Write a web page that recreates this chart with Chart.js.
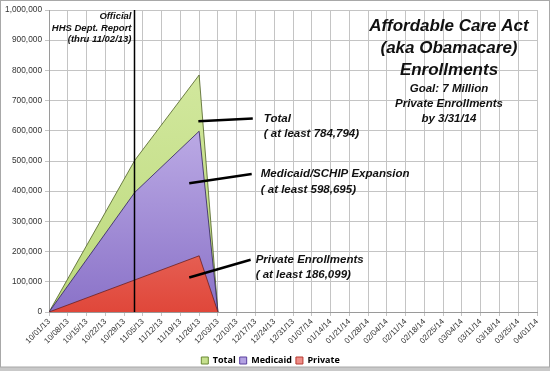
<!DOCTYPE html>
<html>
<head>
<meta charset="utf-8">
<script src="https://cdn.jsdelivr.net/npm/chart.js@4.4.1/dist/chart.umd.min.js"></script>
<style>
  html, body { margin: 0; padding: 0; background: #fff; }
  #wrap { position: relative; width: 550px; height: 371px; }
</style>
</head>
<body>
<div id="wrap"><canvas id="c" width="550" height="371"></canvas></div>
<script>
// ---- Data (x = days since 10/01/13) ----
const weekLabels = ["10/01/13","10/08/13","10/15/13","10/22/13","10/29/13","11/05/13","11/12/13","11/19/13","11/26/13","12/03/13","12/10/13","12/17/13","12/24/13","12/31/13","01/07/14","01/14/14","01/21/14","01/28/14","02/04/14","02/11/14","02/18/14","02/25/14","03/04/14","03/11/14","03/18/14","03/25/14","04/01/14"];
const dayOffsets = [0, 32, 56, 63];            // 10/01/13, 11/02/13, 11/26/13, 12/03/13
const totalValues = [0, 502446, 784794, 0];
const medicaidValues = [0, 396261, 598695, 0];
const privateValues = [0, 106185, 186099, 0];
const seriesNames = ["Total", "Medicaid", "Private"];
const reportDay = 32;                          // HHS report date 11/02/13
const yTickMax = 1000000;

function pts(vals) { return dayOffsets.map((d, i) => ({ x: d, y: vals[i] })); }

function grad(top, bottom, fallback) {
  return (ctx) => {
    const ch = ctx.chart;
    const a = ch.chartArea;
    if (!a) return fallback;
    const y = ch.scales.y;
    const g = ch.ctx.createLinearGradient(0, y.getPixelForValue(800000), 0, a.bottom);
    g.addColorStop(0, top);
    g.addColorStop(1, bottom);
    return g;
  };
}

const legendColors = {
  Total: ["#c6e08e", "#6b8a34"],
  Medicaid: ["#b3a2e2", "#5a3f9e"],
  Private: ["#ee8e88", "#b83a30"]
};

const framePlugin = {
  id: 'frame',
  beforeDraw(ch) {
    const c = ch.ctx;
    c.save();
    c.fillStyle = '#ffffff';
    c.fillRect(0, 0, ch.width, ch.height);
    c.restore();
  },
  afterDraw(ch) {
    const c = ch.ctx;
    c.save();
    c.fillStyle = '#c9c9c9';
    c.fillRect(0, ch.height - 4, ch.width, 4);
    c.strokeStyle = '#a8a8a8';
    c.lineWidth = 1;
    c.strokeRect(0.5, 0.5, ch.width - 1, ch.height - 4.5);
    c.restore();
  }
};

const notesPlugin = {
  id: 'notes',
  afterDatasetsDraw(ch) {
    const c = ch.ctx, xs = ch.scales.x, ys = ch.scales.y, a = ch.chartArea;
    const X = v => xs.getPixelForValue(v), Y = v => ys.getPixelForValue(v);
    c.save();
    // HHS report vertical line
    c.strokeStyle = '#000';
    c.lineWidth = 1.5;
    const rx = Math.round(X(reportDay)) - 0.5;
    c.beginPath(); c.moveTo(rx, a.top); c.lineTo(rx, a.bottom); c.stroke();
    c.fillStyle = '#111';
    c.font = 'italic bold 9.5px "Liberation Sans", Arial, sans-serif';
    c.textAlign = 'right'; c.textBaseline = 'middle';
    c.fillText('Official', rx - 3, 16);
    c.fillText('HHS Dept. Report', rx - 3, 28);
    c.fillText('(thru 11/02/13)', rx - 3, 39.5);

    // callouts
    const callouts = [
      { from: [55.7, 632000], to: [76, 641000], gap: 11, lines: ['Total', '( at least 784,794)'] },
      { from: [52.3, 426000], to: [75.6, 457000], gap: 9, lines: ['Medicaid/SCHIP Expansion', '( at least 598,695)'] },
      { from: [52.3, 114000], to: [75.2, 173000], gap: 5, lines: ['Private Enrollments', '( at least 186,099)'] }
    ];
    c.strokeStyle = '#000';
    c.lineWidth = 2.5;
    c.font = 'italic bold 11.5px "Liberation Sans", Arial, sans-serif';
    c.textAlign = 'left';
    callouts.forEach(co => {
      const x1 = X(co.from[0]), y1 = Y(co.from[1]), x2 = X(co.to[0]), y2 = Y(co.to[1]);
      c.beginPath(); c.moveTo(x1, y1); c.lineTo(x2, y2); c.stroke();
      c.fillText(co.lines[0], x2 + co.gap, y2);
      c.fillText(co.lines[1], x2 + co.gap, y2 + 15.5);
    });

    // title block
    const cx = a.right - 88;
    c.textAlign = 'center';
    c.font = 'italic bold 17px "Liberation Sans", Arial, sans-serif';
    c.fillText('Affordable Care Act', cx, 26);
    c.fillText('(aka Obamacare)', cx, 48);
    c.fillText('Enrollments', cx, 70.5);
    c.font = 'italic bold 11.5px "Liberation Sans", Arial, sans-serif';
    c.fillText('Goal: 7 Million', cx, 89);
    c.fillText('Private Enrollments', cx, 104);
    c.fillText('by 3/31/14', cx, 119);
    c.restore();
  }
};

const chart = new Chart(document.getElementById('c'), {
  type: 'line',
  data: {
    datasets: [
      { label: seriesNames[2], data: pts(privateValues), order: 0, fill: 'origin',
        backgroundColor: grad('#f5aaa2', '#e0473a', '#ee8e88'), borderColor: '#6a2020', borderWidth: 0.8 },
      { label: seriesNames[1], data: pts(medicaidValues), order: 1, fill: 'origin',
        backgroundColor: grad('#cbbcee', '#8a72c8', '#b3a2e2'), borderColor: '#2e2060', borderWidth: 0.8 },
      { label: seriesNames[0], data: pts(totalValues), order: 2, fill: 'origin',
        backgroundColor: grad('#d2e89e', '#bcd97c', '#c6e08e'), borderColor: '#4d5e22', borderWidth: 0.8 }
    ]
  },
  options: {
    responsive: false,
    animation: false,
    events: [],
    elements: { point: { radius: 0 }, line: { tension: 0 } },
    layout: { padding: { left: 4, right: 13, top: 10, bottom: -4 } },
    scales: {
      x: {
        type: 'linear', min: 0, max: 182,
        grid: { color: '#c4c4c4', lineWidth: 1, tickLength: 4, drawTicks: true },
        border: { color: '#9a9a9a' },
        ticks: {
          stepSize: 7, autoSkip: false, maxRotation: 45, minRotation: 45, padding: 1,
          color: '#333', font: { family: 'Arial, "Liberation Sans", sans-serif', size: 8 },
          callback: (v) => weekLabels[Math.round(v / 7)] || ''
        },
        afterFit: (s) => { s.height = 40; }
      },
      y: {
        min: 0, max: yTickMax,
        grid: { color: '#c4c4c4', lineWidth: 1, tickLength: 4 },
        border: { color: '#9a9a9a' },
        ticks: {
          stepSize: 100000, padding: 3, color: '#333',
          font: { family: 'Arial, "Liberation Sans", sans-serif', size: 8.3 },
          callback: (v) => v.toLocaleString('en-US')
        },
        afterFit: (s) => { s.width = 45; }
      }
    },
    plugins: {
      legend: {
        position: 'bottom', reverse: true,
        labels: {
          boxWidth: 7, boxHeight: 7, padding: 4, color: '#222',
          font: { family: '"Open Sans", Arial, sans-serif', size: 9, weight: 'bold' },
          generateLabels: (ch) => ch.data.datasets.map((ds, i) => ({
            text: ds.label, fillStyle: legendColors[ds.label][0], strokeStyle: legendColors[ds.label][1],
            lineWidth: 1, datasetIndex: i, hidden: false
          }))
        }
      },
      tooltip: { enabled: false }
    }
  },
  plugins: [framePlugin, notesPlugin]
});
</script>
</body>
</html>
